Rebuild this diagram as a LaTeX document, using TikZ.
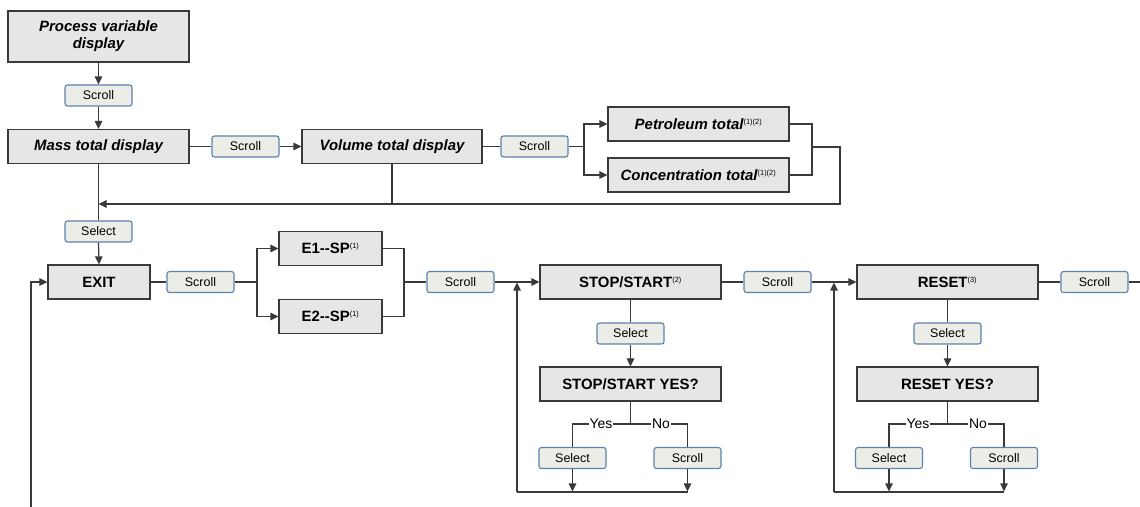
\documentclass[tikz,border=0pt]{standalone}
\usepackage{fontspec}
\setmainfont{Liberation Sans}
\usetikzlibrary{arrows.meta}
\definecolor{boxfill}{HTML}{E6E6E6}
\definecolor{btnfill}{HTML}{EDEDE8}
\definecolor{btnline}{HTML}{5B83AE}
\definecolor{wire}{HTML}{3A3A3A}
\begin{document}
\begin{tikzpicture}[x=1bp,y=-1bp,
  menubox/.style={draw=wire,line width=1.2bp,fill=boxfill,minimum width=181bp,minimum height=34bp,inner sep=1bp,font=\fontsize{15}{17}\selectfont\bfseries,align=center},
  smallbox/.style={menubox,minimum width=103bp},
  btn/.style={draw=btnline,line width=1.1bp,fill=btnfill,rounded corners=2.5bp,minimum width=67bp,minimum height=21bp,inner sep=0pt,font=\fontsize{12.5}{14}\selectfont},
  wirel/.style={draw=wire,line width=1.2bp},
  arr/.style={wirel,-{Triangle[length=8bp,width=7.5bp]}},
  yn/.style={fill=white,inner sep=1bp,font=\fontsize{14}{16}\selectfont}
]
\newcommand{\fn}[1]{\textsuperscript{\fontsize{7.5}{8}\selectfont\mdseries\upshape #1}}
\useasboundingbox (0,0) rectangle (1140,507);

% nodes
\node[menubox,minimum height=51bp] (pv) at (98.5,36.5) {\itshape Process variable\\\itshape display};
\node[btn] (s1) at (98.5,95.5) {Scroll};
\node[menubox] (mass) at (98.5,146.5) {\itshape Mass total display};
\node[btn] (s2) at (245.5,146.5) {Scroll};
\node[menubox,minimum width=180bp] (vol) at (392,146.5) {\itshape Volume total display};
\node[btn] (s3) at (534.5,146.5) {Scroll};
\node[menubox] (pet) at (698.5,124) {\itshape Petroleum total\fn{(1)(2)}};
\node[menubox] (conc) at (698.5,175) {\itshape Concentration total\fn{(1)(2)}};
\node[btn] (sel1) at (98.5,231.5) {Select};
\node[menubox,minimum width=102bp] (exit) at (99,282) {EXIT};
\node[btn] (s4) at (200.5,282) {Scroll};
\node[smallbox] (e1) at (330.5,248.5) {E1-{}-SP\fn{(1)}};
\node[smallbox] (e2) at (330.5,316.5) {E2-{}-SP\fn{(1)}};
\node[btn] (s5) at (460.5,282) {Scroll};
\node[menubox] (ss) at (630.5,282) {STOP/START\fn{(2)}};
\node[btn] (sel2) at (630.5,333.5) {Select};
\node[menubox] (ssy) at (630.5,384) {STOP/START YES?};
\node[btn] (selA) at (572.5,458) {Select};
\node[btn] (scrA) at (687.5,458) {Scroll};
\node[btn] (s6) at (777.5,282) {Scroll};
\node[menubox] (rs) at (947.5,282) {RESET\fn{(3)}};
\node[btn] (sel3) at (947.5,333.5) {Select};
\node[menubox] (rsy) at (947.5,384) {RESET YES?};
\node[btn] (selB) at (889,458) {Select};
\node[btn] (scrB) at (1004,458) {Scroll};
\node[btn] (s7) at (1094.5,282) {Scroll};

% coordinates
\coordinate (b1) at (584,146.5);
\coordinate (m1) at (812,147);
\coordinate (r1) at (840,147);
\coordinate (r2) at (840,204);
\coordinate (j1) at (98.5,204);
\coordinate (v1) at (392,204);
\coordinate (b2) at (257,282);
\coordinate (m2) at (404,282);
\coordinate (l1) at (517,282);
\coordinate (l1b) at (517,492);
\coordinate (yA) at (630.5,424);
\coordinate (l2) at (834,282);
\coordinate (l2b) at (834,492);
\coordinate (yB) at (947.5,424);
\coordinate (endR) at (1140,282);
\coordinate (lx) at (31,507);
\coordinate (lxt) at (31,282);

% top section
\draw[arr] (pv.south) -- (s1.north);
\draw[arr] (s1.south) -- (mass.north);
\draw[wirel] (mass.east) -- (s2.west);
\draw[arr] (s2.east) -- (vol.west);
\draw[wirel] (vol.east) -- (s3.west);
\draw[wirel] (s3.east) -- (b1);
\draw[arr] (b1) |- (pet.west);
\draw[arr] (b1) |- (conc.west);
\draw[wirel] (pet.east) -| (m1);
\draw[wirel] (conc.east) -| (m1);
\draw[wirel] (m1) -- (r1) -- (r2) -- (v1);
\draw[arr] (v1) -- (j1);
\draw[wirel] (vol.south) -- (v1);
\draw[wirel] (mass.south) -- (sel1.north);
\draw[arr] (sel1.south) -- (exit.north);

% EXIT row
\draw[arr] (lx) -- (lxt) -- (exit.west);
\draw[wirel] (exit.east) -- (s4.west);
\draw[wirel] (s4.east) -- (b2);
\draw[arr] (b2) |- (e1.west);
\draw[arr] (b2) |- (e2.west);
\draw[wirel] (e1.east) -| (m2);
\draw[wirel] (e2.east) -| (m2);
\draw[wirel] (m2) -- (s5.west);
\draw[arr] (s5.east) -- (ss.west);

% STOP/START
\draw[wirel] (ss.south) -- (sel2.north);
\draw[arr] (sel2.south) -- (ssy.north);
\draw[wirel] (ssy.south) -- (yA);
\draw[wirel] (selA.north) |- (yA) -| (scrA.north);
\node[yn] (yesA) at (601,424) {Yes};
\node[yn] (noA) at (661,424) {No};
\draw[arr] (selA.south) -- (572.5,491.4);
\draw[arr] (scrA.south) -- (687.5,491.4);
\draw[wirel] (scrA.south |- l1b) -- (l1b);
\draw[arr] (l1b) -- (517,282.6);

% RESET
\draw[wirel] (ss.east) -- (s6.west);
\draw[arr] (s6.east) -- (rs.west);
\draw[wirel] (rs.south) -- (sel3.north);
\draw[arr] (sel3.south) -- (rsy.north);
\draw[wirel] (rsy.south) -- (yB);
\draw[wirel] (selB.north) |- (yB) -| (scrB.north);
\node[yn] (yesB) at (918,424) {Yes};
\node[yn] (noB) at (978,424) {No};
\draw[arr] (selB.south) -- (889,491.4);
\draw[arr] (scrB.south) -- (1004,491.4);
\draw[wirel] (scrB.south |- l2b) -- (l2b);
\draw[arr] (l2b) -- (834,282.6);
\draw[wirel] (rs.east) -- (s7.west);
\draw[wirel] (s7.east) -- (endR);
\end{tikzpicture}
\end{document}
